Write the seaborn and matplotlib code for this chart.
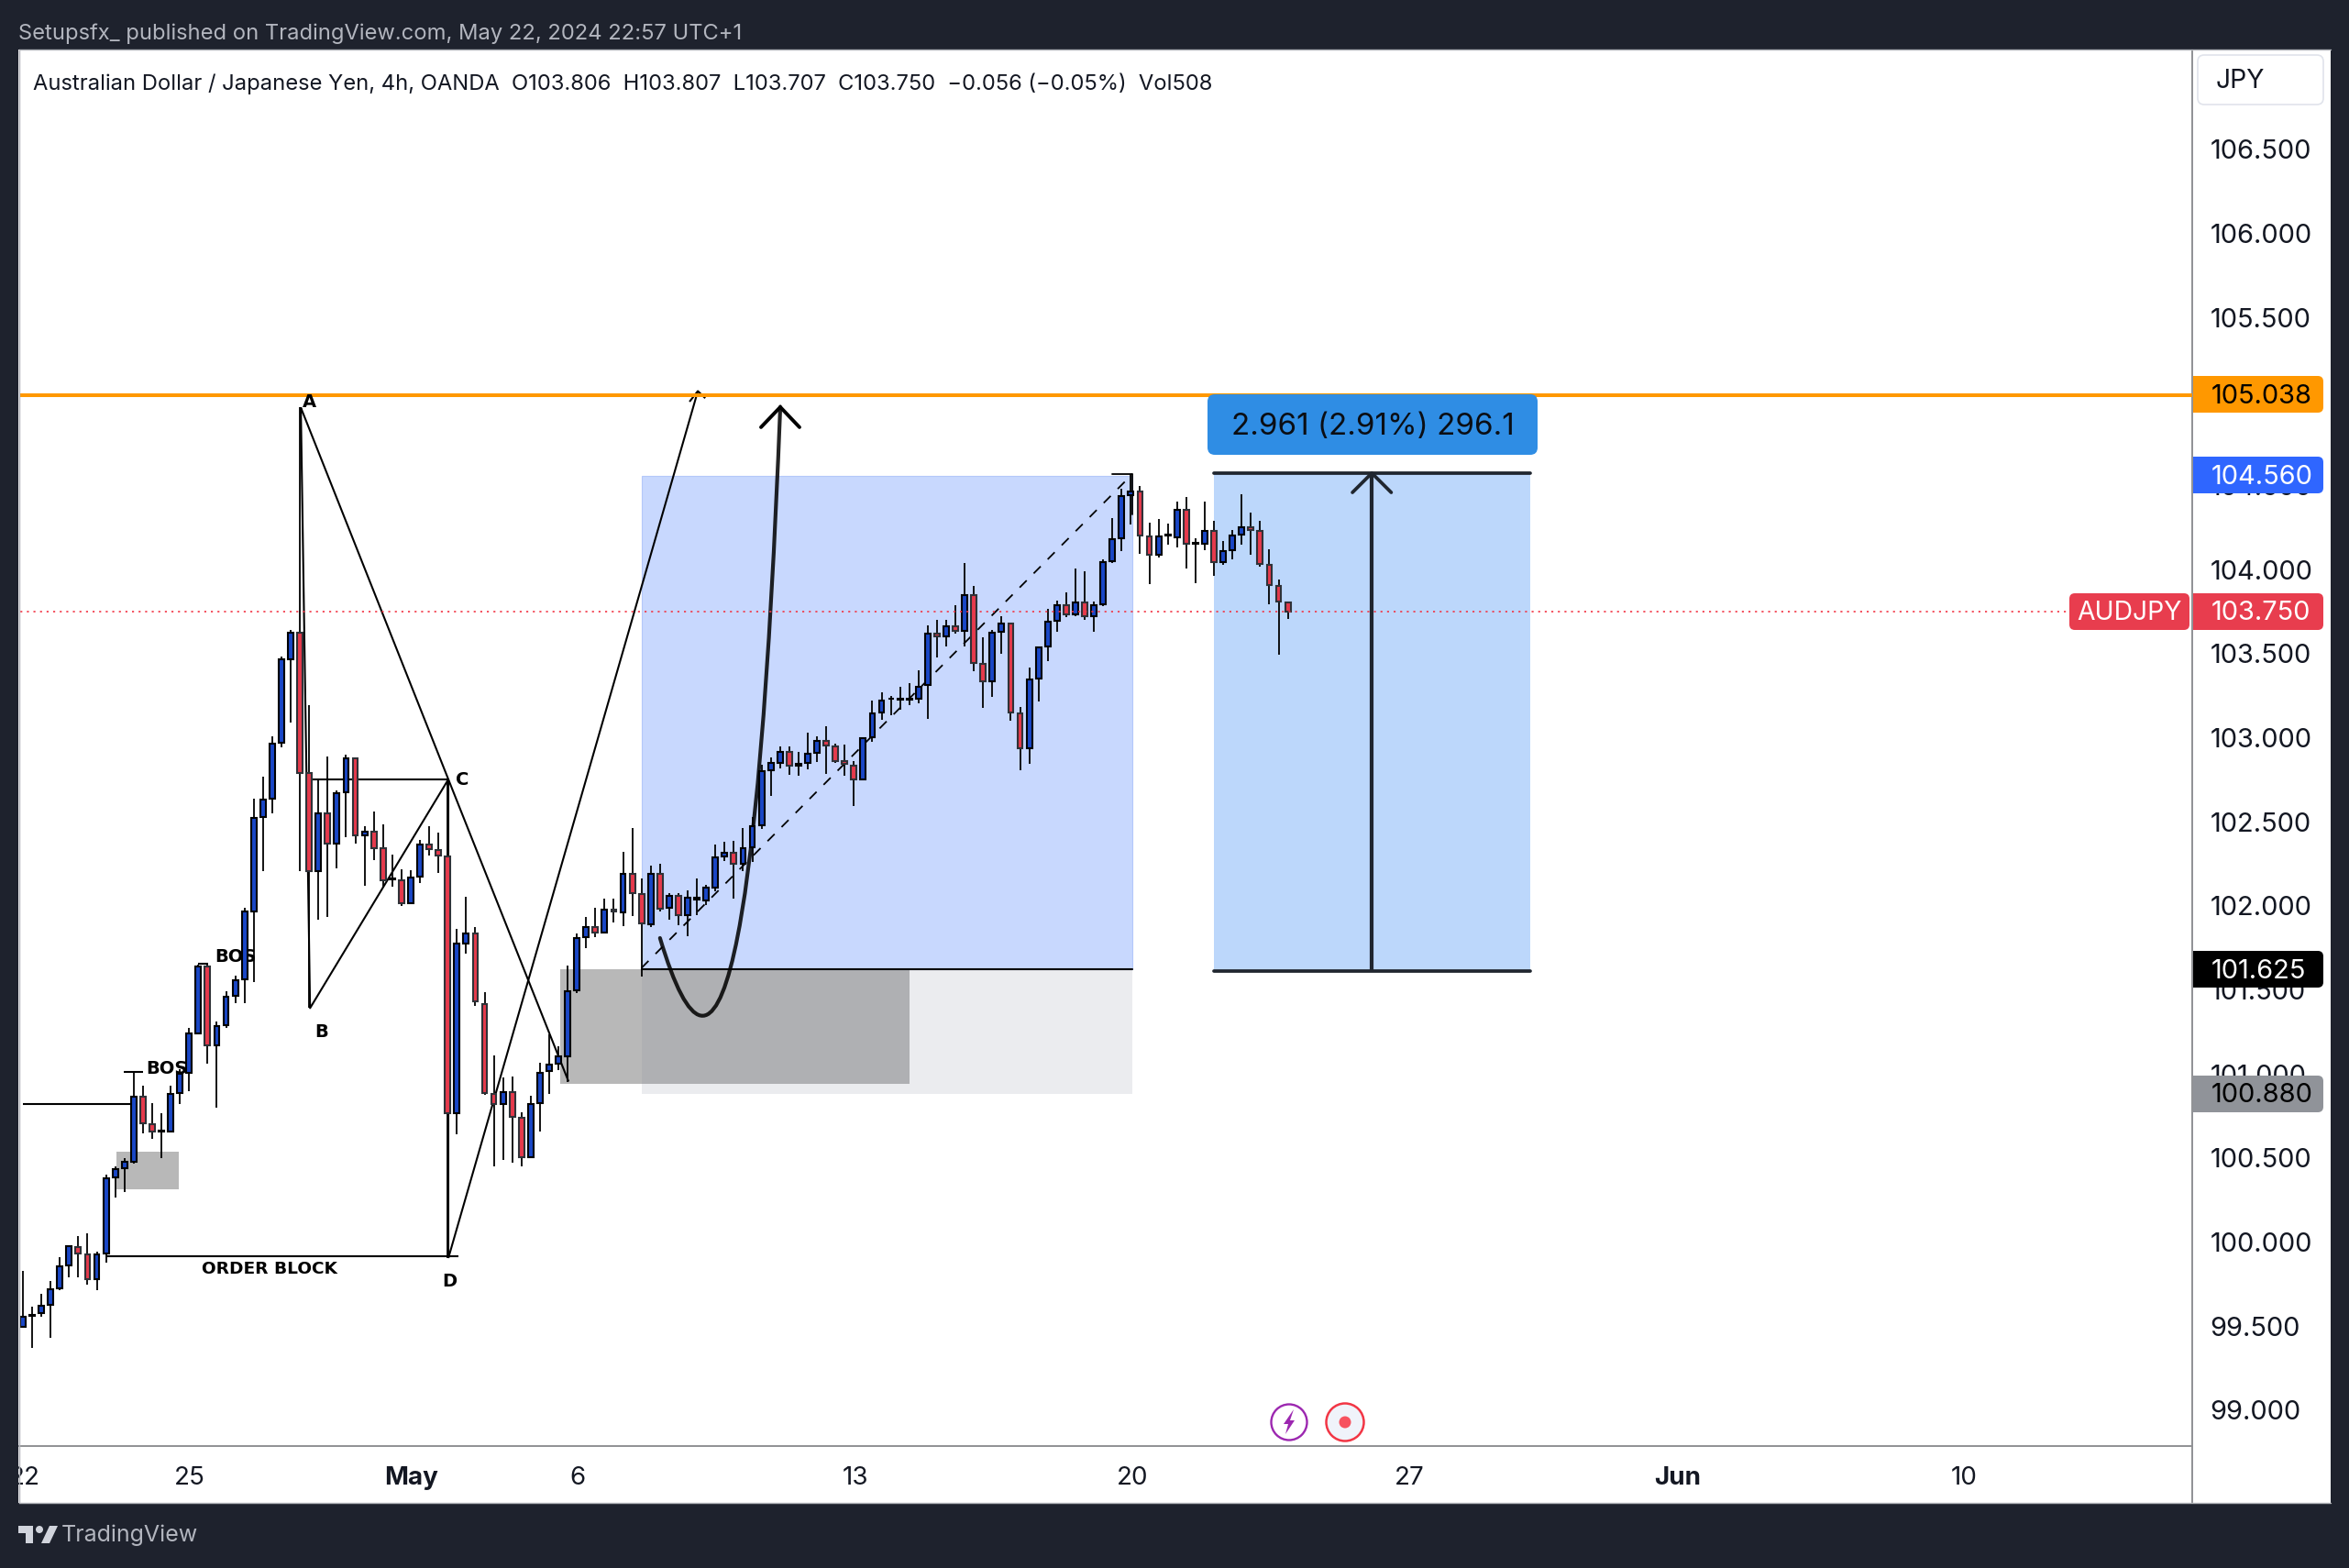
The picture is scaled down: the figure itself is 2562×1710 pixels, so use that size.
import matplotlib
matplotlib.use("Agg")
import matplotlib.pyplot as plt
import seaborn as sns
import pandas as pd
import numpy as np
from matplotlib.patches import FancyBboxPatch, Rectangle, Circle, Polygon, PathPatch
from matplotlib.path import Path
from matplotlib.transforms import IdentityTransform
from matplotlib.lines import Line2D

# ---------- candles (4h AUD/JPY) ----------
open_ = [99.496,99.562,99.577,99.624,99.724,99.859,99.972,99.925,99.778,99.931,
 100.385,100.439,100.479,100.865,100.702,100.655,100.658,100.886,101.005,101.243,
 101.641,101.168,101.287,101.466,101.563,101.967,102.528,102.637,102.969,103.467,
 103.627,102.788,102.205,102.550,102.371,102.675,102.875,102.418,102.443,102.340,
 102.155,102.152,102.017,102.174,102.365,102.333,102.293,100.767,101.776,101.835,
 101.413,100.881,100.820,100.892,100.738,100.506,100.825,101.015,101.060,101.105,
 101.499,101.813,101.872,101.841,101.978,101.961,102.191,102.070,101.891,102.191,
 101.989,102.059,101.944,102.037,102.031,102.107,102.294,102.314,102.249,102.347,
 102.479,102.806,102.851,102.918,102.831,102.848,102.910,102.980,102.946,102.859,
 102.834,102.753,103.002,103.150,103.229,103.226,103.226,103.229,103.314,103.621,
 103.601,103.665,103.634,103.848,103.439,103.334,103.628,103.679,103.146,102.937,
 103.352,103.543,103.694,103.790,103.732,103.806,103.721,103.792,104.048,104.185,
 104.441,104.467,104.197,104.086,104.201,104.190,104.357,104.152,104.152,104.232,
 104.043,104.116,104.207,104.254,104.232,104.030,103.905,103.806]
high = [99.825,99.615,99.693,99.768,99.909,99.980,100.034,100.050,99.944,100.398,
 100.451,100.501,101.015,100.927,100.824,100.764,100.927,101.030,101.275,101.647,
 101.647,101.312,101.494,101.582,101.986,102.637,102.769,103.007,103.480,103.643,
 104.964,103.192,102.753,102.888,102.687,102.900,102.884,102.471,102.559,102.484,
 102.305,102.218,102.211,102.393,102.474,102.434,102.750,101.860,102.052,101.876,
 101.485,101.108,100.976,100.982,100.772,100.870,101.066,101.234,101.164,101.645,
 101.835,101.936,101.989,102.040,102.040,102.319,102.465,102.165,102.241,102.249,
 102.073,102.073,102.090,102.165,102.123,102.364,102.381,102.386,102.465,102.526,
 102.840,102.882,102.946,102.949,102.918,103.030,103.010,103.066,102.966,102.957,
 102.862,103.005,103.220,103.268,103.248,103.304,103.327,103.402,103.666,103.701,
 103.701,103.788,104.039,103.901,103.597,103.643,103.723,103.683,103.183,103.415,
 103.539,103.766,103.816,103.865,104.006,103.990,103.810,104.059,104.306,104.481,
 104.567,104.497,104.279,104.301,104.274,104.405,104.432,104.185,104.405,104.290,
 104.170,104.234,104.448,104.337,104.290,104.121,103.939,103.807]
low = [99.490,99.371,99.552,99.427,99.715,99.790,99.787,99.743,99.715,99.878,
 100.266,100.295,100.467,100.648,100.614,100.501,100.650,100.818,100.899,101.237,
 101.062,100.796,101.275,101.419,101.422,101.544,102.208,102.550,102.941,103.088,
 102.205,101.391,101.917,101.936,102.221,102.409,102.368,102.120,102.274,102.111,
 102.111,101.998,102.010,102.136,102.299,102.193,99.903,100.639,101.713,101.406,
 100.875,100.450,100.487,100.473,100.450,100.500,100.654,100.878,101.024,100.954,
 101.480,101.746,101.813,101.835,101.900,101.877,101.939,101.578,101.872,101.967,
 101.916,101.883,101.821,101.944,102.003,102.087,102.266,102.045,102.207,102.260,
 102.456,102.655,102.815,102.781,102.773,102.812,102.857,102.787,102.851,102.773,
 102.596,102.745,102.974,103.108,103.136,103.164,103.192,103.204,103.114,103.479,
 103.545,103.621,103.545,103.397,103.179,103.243,103.501,103.101,102.806,102.846,
 103.215,103.457,103.630,103.719,103.725,103.703,103.630,103.785,104.039,104.112,
 104.270,104.096,103.915,104.074,104.148,104.132,104.006,103.921,104.116,103.963,
 104.030,104.061,104.148,104.088,104.019,103.795,103.495,103.707]
close = [99.552,99.568,99.618,99.718,99.853,99.975,99.931,99.778,99.925,100.376,
 100.435,100.479,100.865,100.705,100.658,100.661,100.880,100.999,101.243,101.641,
 101.168,101.284,101.460,101.557,101.964,102.524,102.631,102.963,103.464,103.627,
 102.791,102.205,102.550,102.371,102.672,102.875,102.418,102.443,102.340,102.149,
 102.161,102.017,102.167,102.365,102.337,102.299,100.767,101.773,101.835,101.431,
 100.884,100.820,100.892,100.744,100.506,100.820,101.007,101.055,101.102,101.494,
 101.807,101.872,101.841,101.978,101.964,102.191,102.073,101.894,102.191,101.984,
 102.059,101.942,102.048,102.048,102.107,102.288,102.314,102.252,102.344,102.476,
 102.800,102.848,102.918,102.831,102.843,102.904,102.982,102.954,102.862,102.843,
 102.750,102.996,103.145,103.220,103.234,103.234,103.234,103.304,103.618,103.601,
 103.665,103.634,103.848,103.445,103.334,103.625,103.679,103.148,102.937,103.348,
 103.539,103.692,103.790,103.732,103.806,103.721,103.788,104.046,104.183,104.439,
 104.467,104.201,104.086,104.197,104.207,104.357,104.152,104.157,104.232,104.043,
 104.112,104.205,104.254,104.234,104.032,103.906,103.808,103.750]

# ---------- axes labels ----------
price_ticks = [99.0,99.5,100.0,100.5,101.0,101.5,102.0,102.5,103.0,103.5,104.0,104.5,105.0,105.5,106.0,106.5]
date_pos = [0.2,18.07,42.1,60.08,90.2,120.2,150.2,179.2,210.2]
date_labels = ["22","25","May","6","13","20","27","Jun","10"]

# ---------- drawing levels (price / bar-index coordinates) ----------
resistance = 105.038
last_price = 103.750
long_x = [67.0, 120.2]
long_levels = [100.88, 101.625, 104.56]
ob_box = dict(x=[58.2, 96.0], y=[100.94, 101.625])
small_box = dict(x=[10.13, 16.88], y=[100.313, 100.539])
range_x = [129.0, 163.3, 146.1]
range_y = [101.61, 104.574]
abcd_x = [30.1, 31.1, 46.08, 30.1]
abcd_y = [104.964, 101.391, 102.752, 104.964]

FONT = "Inter"
W, H = 2562, 1710
DARK = "#1E222D"
TXT = "#131722"

sns.set_theme(style="white")
plt.rcParams["font.family"] = [FONT, "DejaVu Sans"]

fig = plt.figure(figsize=(W / 100, H / 100), dpi=100, facecolor="white")
L, R, T, B = 20.7, 2391, 54, 1577
ax = fig.add_axes([L / W, 1 - B / H, (R - L) / W, (B - T) / H])
ax.set_facecolor("white")

df = pd.DataFrame(dict(idx=np.arange(len(open_)), o=open_, h=high, l=low, c=close))
df["top"] = df[["o", "c"]].max(axis=1)
df["bot"] = df[["o", "c"]].min(axis=1)
df["up"] = df["c"] >= df["o"]

# zones
ax.add_patch(Rectangle((ob_box["x"][0], ob_box["y"][0]), ob_box["x"][1] - ob_box["x"][0],
                       ob_box["y"][1] - ob_box["y"][0], fc="#B8B8B8", ec="none", zorder=1))
ax.add_patch(Rectangle((small_box["x"][0], small_box["y"][0]), small_box["x"][1] - small_box["x"][0],
                       small_box["y"][1] - small_box["y"][0], fc="#B8B8B8", ec="none", zorder=1))
ax.add_patch(Rectangle((long_x[0], long_levels[0]), long_x[1] - long_x[0], long_levels[1] - long_levels[0],
                       fc=(132/255, 139/255, 158/255, .155), ec="none", zorder=1.2))
ax.add_patch(Rectangle((long_x[0], long_levels[1]), long_x[1] - long_x[0], long_levels[2] - long_levels[1],
                       fc="#C8D8FE", ec="#B4C8FA", lw=.8, zorder=1.2))
ax.add_patch(Rectangle((range_x[0], range_y[0]), range_x[1] - range_x[0], range_y[1] - range_y[0],
                       fc="#BCD7FB", ec="none", zorder=1.2))

lk = dict(color="black", lw=1.5, zorder=2.4, solid_capstyle="butt")
# ABCD + structure lines
ax.plot(abcd_x, abcd_y, **lk)
ax.plot([46.08, 59.1], [102.752, 100.954], **lk)
ax.plot([46.08, 46.08], [102.752, 99.904], **lk)
ax.plot([46.08, 73.1], [99.904, 105.062], **lk)
ax.plot([72.2, 73.1, 73.9], [104.999, 105.062, 105.02], **lk)
ax.plot([31.1, 46.08], [102.752, 102.752], **lk)
ax.plot([9.04, 47.2], [99.915, 99.915], **lk)
ax.plot([0, 11.7], [100.818, 100.818], **lk)
ax.plot([10.9, 13], [101.011, 101.011], **lk)
ax.plot([19, 20.1], [101.657, 101.657], **lk)
# long position lines
ax.plot(long_x, [101.625, 101.625], color="black", lw=1.5, zorder=2.4)
ax.plot([67.0, 120.2], [101.63, 104.57], color="black", lw=1.3, ls=(0, (6, 6)), zorder=2.4)
ax.plot([118.0, 120.2, 120.2], [104.57, 104.57, 104.33], color="black", lw=1.3, zorder=2.4)
# hand-drawn curve
curve = Path([(69.0, 101.808), (78.55, 100.051), (82.03, 104.967)], [Path.MOVETO, Path.CURVE3, Path.CURVE3])
ax.add_patch(PathPatch(curve, fc="none", ec=(0, 0, 0, .86), lw=3.0, zorder=2.5, capstyle="round"))
ax.plot([79.94, 82.03, 84.11], [104.847, 104.967, 104.847], color="black", lw=2.8, zorder=2.5,
        solid_capstyle="round", solid_joinstyle="miter")
# orange level
ax.axhline(resistance, color="#FF9800", lw=2.9, zorder=2.6)
# range tool
rc = "#20262F"
ax.plot(range_x[:2], [range_y[1], range_y[1]], color=rc, lw=2.7, zorder=2.5, solid_capstyle="round")
ax.plot(range_x[:2], [range_y[0], range_y[0]], color=rc, lw=2.7, zorder=2.5, solid_capstyle="round")
ax.plot([range_x[2], range_x[2]], range_y, color=rc, lw=3.0, zorder=2.5, solid_capstyle="butt")
ax.plot([range_x[2] - 2.1, range_x[2], range_x[2] + 2.1], [range_y[1] - .115, range_y[1], range_y[1] - .115],
        color=rc, lw=2.7, zorder=2.5, solid_capstyle="round")

# wicks + bodies
ax.vlines(df["idx"], df["l"], df["h"], color="black", lw=1.3, zorder=3)
for up, face, edge in [(True, "#1A47C6", "#000000"), (False, "#E63A4C", "#2F3238")]:
    sub = df[df["up"] == up]
    sns.barplot(data=sub, x="idx", y=sub["top"] - sub["bot"], bottom=sub["bot"].values, native_scale=True,
                width=0.58, color=face, edgecolor=edge, linewidth=1.5, saturation=1, errorbar=None,
                ax=ax, zorder=3.1, legend=False)

# last-price dotted line
ax.plot([-1, 222.5], [last_price, last_price], color="#F23645", lw=1.2, ls=(0, (1.3, 3.0)), zorder=3.5)

# text annotations
ann = dict(family="DejaVu Sans", fontweight="bold", color="black", ha="center", va="center", zorder=2.9)
ax.text(31.0, 104.995, "A", fontsize=14, **ann)
ax.text(32.3, 101.25, "B", fontsize=14, **ann)
ax.text(47.6, 102.75, "C", fontsize=14, **ann)
ax.text(46.2, 99.765, "D", fontsize=14, **ann)
ax.text(15.6, 101.03, "BOS", fontsize=14, **ann)
ax.text(23.0, 101.694, "BOS", fontsize=14, **ann)
ax.text(26.7, 99.84, "ORDER BLOCK", fontsize=13.3, **ann)

# axes
ax.set_xlim((L - 25) / 10.07, (R - 25) / 10.07)
ax.set_ylim(103.75 + (667 - B) / 183.3, 103.75 + (667 - T) / 183.3)
ax.yaxis.tick_right()
ax.set_yticks(price_ticks)
ax.set_yticklabels([f"{p:.3f}" for p in price_ticks], color=TXT, fontsize=20.9)
ax.set_xticks(date_pos)
ax.set_xticklabels(date_labels, color=TXT, fontsize=20)
ax.get_xticklabels()[2].set_fontweight("bold")
ax.get_xticklabels()[7].set_fontweight("bold")
ax.tick_params(axis="x", length=0, pad=16)
ax.tick_params(axis="y", length=0, pad=14, left=False, labelleft=False)
ax.set_xlabel(""); ax.set_ylabel("")
for s in ["top", "left"]:
    ax.spines[s].set_visible(False)
for s in ["right", "bottom"]:
    ax.spines[s].set_visible(True)
    ax.spines[s].set_color("#8F9094")
    ax.spines[s].set_linewidth(1.4)

# ---------- overlays in figure pixels ----------
ID = IdentityTransform()
def rect(x0, y0, x1, y1, fc, z=5, ec="none", lw=0):
    fig.add_artist(Rectangle((x0, H - y1), x1 - x0, y1 - y0, fc=fc, ec=ec, lw=lw, transform=ID, zorder=z))
def rrect(x0, y0, x1, y1, fc, r=6, z=5, ec="none", lw=0):
    fig.add_artist(FancyBboxPatch((x0, H - y1), x1 - x0, y1 - y0, boxstyle=f"round,pad=0,rounding_size={r}",
                                  fc=fc, ec=ec, lw=lw, transform=ID, zorder=z))
def label(x, y, s, size=20.9, color=TXT, ha="left", z=6, **kw):
    fig.text(x / W, 1 - (y + 2) / H, s, fontsize=size, color=color, ha=ha, va="center", zorder=z, **kw)

# dark frame
rect(0, 0, W, T, DARK); rect(0, 1639, W, H, DARK); rect(0, 0, L - .7, H, DARK); rect(2542, 0, W, H, DARK)
fig.add_artist(Line2D([R, R], [H - 1577, H - 1639], color="#8F9094", lw=1.4, transform=ID, zorder=4))
fig.add_artist(Line2D([L, 2542], [H - 1639, H - 1639], color="#B0B2B8", lw=1, transform=ID, zorder=6))
fig.add_artist(Line2D([L, 2542], [H - T, H - T], color="#B0B2B8", lw=1, transform=ID, zorder=6))
fig.add_artist(Line2D([L, L], [H - T, H - 1639], color="#B0B2B8", lw=1, transform=ID, zorder=6))

# price badges
badges = [(430, "105.038", "#FF9800", "black"), (518, "104.560", "#2F66FF", "white"),
          (667, "103.750", "#E83D4E", "white"), (1057, "101.625", "#000000", "white"),
          (1193, "100.880", "#909399", "black")]
for yc, s, fc, tc in badges:
    rrect(2392, yc - 20, 2534, yc + 20, fc)
    rect(2392, yc - 20, 2402, yc + 20, fc)
    label(2412, yc, s, color=tc)
rrect(2257, 647, 2388, 687, "#E83D4E")
label(2322.5, 667, "AUDJPY", size=20.4, color="white", ha="center")

# JPY box
rrect(2397, 60, 2534, 114, "white", r=7, ec="#E0E3EB", lw=1.2)
label(2417, 87, "JPY", size=20.4)

# measure label
rrect(1317, 430, 1677, 496, "#2F8DE4", r=8)
label(1497, 463, "2.961 (2.91%) 296.1", size=23.9, ha="center", color="#0B0E14")

# header / legend / footer
label(20, 35, "Setupsfx_ published on TradingView.com, May 22, 2024 22:57 UTC+1", size=17.1, color="#B2B5BE", z=7)
label(36, 89, "Australian Dollar / Japanese Yen, 4h, OANDA  O103.806  H103.807  L103.707  C103.750  \u22120.056 (\u22120.05%)  Vol508",
      size=17.1, color=TXT)
label(67, 1672, "TradingView", size=18, color="#B2B5BE", z=7)
lg = "#D1D4DC"
fig.add_artist(Polygon([(20, H-1664), (36, H-1664), (36, H-1683), (28, H-1683), (28, H-1672), (20, H-1672)],
                       fc=lg, ec="none", transform=ID, zorder=7))
fig.add_artist(Circle((43, H - 1668), 4, fc=lg, ec="none", transform=ID, zorder=7))
fig.add_artist(Polygon([(54, H-1664), (63, H-1664), (54, H-1683), (45, H-1683)], fc=lg, ec="none", transform=ID, zorder=7))

# session icons
fig.add_artist(Circle((1406, H - 1551), 19.5, fc="white", ec="#9C27B0", lw=1.7, transform=ID, zorder=5))
fig.add_artist(Polygon([(1411, H-1537), (1400, H-1553), (1405, H-1553), (1402, H-1564), (1412, H-1549), (1407, H-1549)],
                       fc="#9C27B0", ec="none", transform=ID, zorder=6))
fig.add_artist(Circle((1467, H - 1551), 20.5, fc="#F0F3FA", ec="#F23645", lw=1.8, transform=ID, zorder=5))
fig.add_artist(Circle((1467, H - 1551), 6.5, fc="#F7525F", ec="none", transform=ID, zorder=6))

fig.savefig("out.png", dpi=100, facecolor="white")
